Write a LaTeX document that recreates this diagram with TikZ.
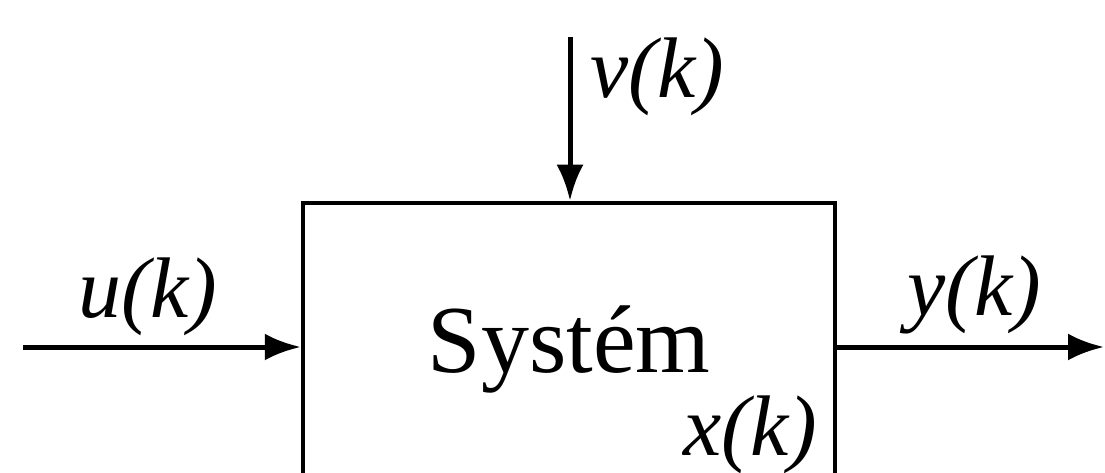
\documentclass[tikz,border=0pt]{standalone}
\usepackage{fontspec}
\setmainfont{Liberation Serif}
\usetikzlibrary{arrows.meta}

\begin{document}
\begin{tikzpicture}[
        x=1pt, y=-1pt,
        block/.style={rectangle, draw, line width=4.5pt, minimum width=532pt, minimum height=360pt, inner sep=0pt},
        signal/.style={-{Latex[length=36pt,width=27pt]}, line width=5pt},
        label/.style={anchor=base, inner sep=0pt, font=\fontsize{86}{90}\selectfont\itshape}
    ]
    \useasboundingbox (0,0) rectangle (1105,473);
    \clip (0,0) rectangle (1105,473);

    % Define system block
    \node[block] (sys) at (569,383) {};
    \node[anchor=base, inner sep=0pt, font=\fontsize{96}{100}\selectfont] (name) at (569,372) {Systém};
    \node[label] (state) at (750,455) {x(k)};

    % Define signals
    \coordinate (uin) at (23,347);
    \coordinate (vin) at (570,37);
    \coordinate (yout) at (1104,347);
    \node[label] (ulab) at (148,317) {u(k)};
    \node[label] (vlab) at (657,98) {v(k)};
    \node[label] (ylab) at (974,315) {y(k)};

    % Draw signals
    \draw[signal] (uin) -- (uin -| sys.west);
    \draw[signal] (vin) -- (vin |- sys.north);
    \draw[signal] (yout -| sys.east) -- (yout);

\end{tikzpicture}
\end{document}
